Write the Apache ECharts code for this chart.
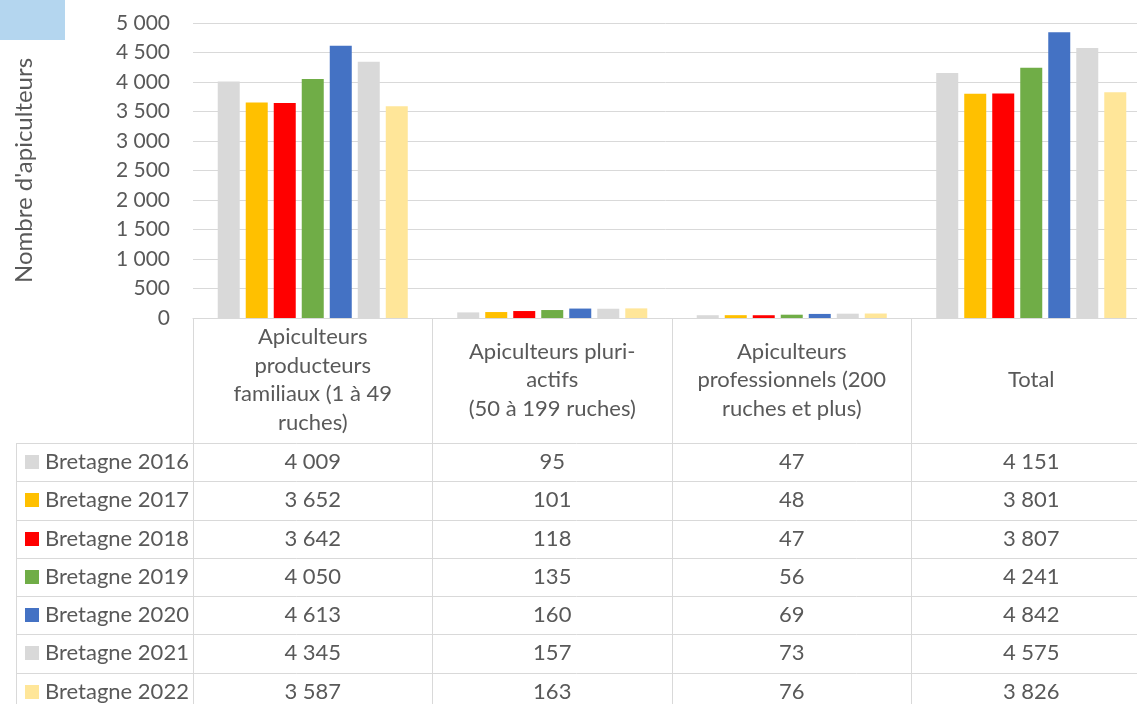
<!DOCTYPE html>
<html>
<head>
<meta charset="utf-8">
<script src="https://cdn.jsdelivr.net/npm/echarts@6/dist/echarts.min.js"></script>
<style>
html,body{margin:0;padding:0;background:#fff;}
#c{width:1137px;height:704px;}
</style>
</head>
<body>
<div id="c"></div>
<script>
const categories = ['Apiculteurs producteurs familiaux (1 à 49 ruches)', 'Apiculteurs pluri-actifs (50 à 199 ruches)', 'Apiculteurs professionnels (200 ruches et plus)', 'Total'];
const headerLabels = ['Apiculteurs\nproducteurs\nfamiliaux (1 à 49\nruches)', 'Apiculteurs pluri-\nactifs\n(50 à 199 ruches)', 'Apiculteurs\nprofessionnels (200\nruches et plus)', 'Total'];
const seriesNames = ['Bretagne 2016', 'Bretagne 2017', 'Bretagne 2018', 'Bretagne 2019', 'Bretagne 2020', 'Bretagne 2021', 'Bretagne 2022'];
const v2016 = [4009, 95, 47, 4151];
const v2017 = [3652, 101, 48, 3801];
const v2018 = [3642, 118, 47, 3807];
const v2019 = [4050, 135, 56, 4241];
const v2020 = [4613, 160, 69, 4842];
const v2021 = [4345, 157, 73, 4575];
const v2022 = [3587, 163, 76, 3826];
const seriesValues = [v2016, v2017, v2018, v2019, v2020, v2021, v2022];
const colors = ['#d9d9d9', '#ffc000', '#ff0000', '#70ad47', '#4472c4', '#d9d9d9', '#ffe699'];
const yTicks = [0, 500, 1000, 1500, 2000, 2500, 3000, 3500, 4000, 4500, 5000];
const yAxisName = "Nombre d'apiculteurs";

const FONT = 'Lato, "Noto Sans", sans-serif';
const TXT = '#595959';
const LINE = '#d9d9d9';
function fmt(n){ return String(n).replace(/\B(?=(\d{3})+(?!\d))/g, ' '); }

const chart = echarts.init(document.getElementById('c'), null, {renderer:'canvas'});
const option = {
  animation: false,
  backgroundColor: '#fff',
  textStyle: {fontFamily: FONT},
  grid: {left: 193, right: -14, top: 23, bottom: 386, containLabel: false, outerBoundsMode: 'none'},
  xAxis: {
    type: 'category',
    data: categories,
    boundaryGap: true,
    axisLine: {show: true, lineStyle: {color: LINE, width: 1}},
    axisTick: {show: true, length: 386, lineStyle: {color: LINE, width: 1}},
    axisLabel: {
      interval: 0,
      margin: 62,
      verticalAlign: 'middle',
      color: TXT, fontSize: 22, lineHeight: 28.5, fontFamily: FONT,
      formatter: (v, i) => headerLabels[i]
    }
  },
  yAxis: {
    type: 'value',
    min: yTicks[0], max: yTicks[yTicks.length-1], interval: 500,
    name: yAxisName,
    nameLocation: 'middle',
    nameGap: 157,
    nameRotate: 90,
    nameTextStyle: {color: TXT, fontSize: 24, fontFamily: FONT},
    axisLine: {show: false},
    axisTick: {show: false},
    axisLabel: {color: TXT, fontSize: 21, margin: 23, fontFamily: FONT, formatter: v => fmt(v)},
    splitLine: {show: true, lineStyle: {color: LINE, width: 1}}
  },
  series: seriesNames.map((name, i) => ({
    name, type: 'bar', data: seriesValues[i],
    barWidth: 22, barGap: '27.3%',
    itemStyle: {color: colors[i]}
  }))
};
chart.setOption(option);

// Data table below the chart
const xs = categories.map((c, i) => chart.convertToPixel({xAxisIndex: 0}, i));
const rowTop = 443, rowH = 38.25, tableLeft = 16, W = 1137, H = 704;
const g = [];
g.push({type: 'rect', shape: {x: 0, y: 0, width: 65, height: 40}, style: {fill: '#b4d6ef'}, silent: true});
for (let r = 0; r <= seriesNames.length; r++) {
  const y = Math.round(rowTop + r * rowH) + 0.5;
  g.push({type: 'line', shape: {x1: tableLeft, y1: y, x2: W, y2: y}, style: {stroke: LINE, lineWidth: 1}, silent: true});
}
g.push({type: 'line', shape: {x1: tableLeft + 0.5, y1: rowTop, x2: tableLeft + 0.5, y2: H}, style: {stroke: LINE, lineWidth: 1}, silent: true});
seriesNames.forEach((name, r) => {
  const cy = rowTop + r * rowH + rowH / 2;
  g.push({type: 'rect', shape: {x: 25, y: Math.round(cy - 7), width: 14, height: 14}, style: {fill: colors[r]}, silent: true});
  g.push({type: 'text', x: 45, y: cy, style: {text: name, fill: TXT, font: '22px ' + FONT, textAlign: 'left', textVerticalAlign: 'middle'}, silent: true});
  seriesValues[r].forEach((v, c) => {
    g.push({type: 'text', x: xs[c], y: cy, style: {text: fmt(v), fill: TXT, font: '22px ' + FONT, textAlign: 'center', textVerticalAlign: 'middle'}, silent: true});
  });
});
chart.setOption({graphic: g});
</script>
</body>
</html>
